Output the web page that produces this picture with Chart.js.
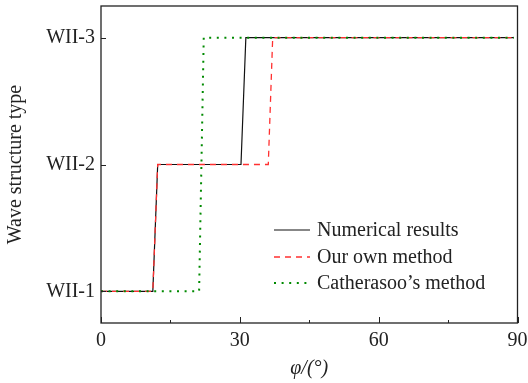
<!DOCTYPE html>
<html>
<head>
<meta charset="utf-8">
<script src="https://cdn.jsdelivr.net/npm/chart.js@4.4.1/dist/chart.umd.min.js"></script>
<style>
html,body{margin:0;padding:0;background:#fff;}
#wrap{width:528px;height:383px;position:relative;}
</style>
</head>
<body>
<div id="wrap"><canvas id="c" width="528" height="383"></canvas></div>
<script>
// ---- data ----
const seriesNames = ["Numerical results", "Our own method", "Catherasoo\u2019s method"];
const numericalX = [0, 11.2, 12.25, 30.25, 31.3, 89.2];
const numericalY = [1, 1, 2, 2, 3, 3];
const ownX = [0, 11.2, 12.25, 36.15, 37.1, 89.2];
const ownY = [1, 1, 2, 2, 3, 3];
const cathX = [0, 21.2, 22.2, 89.2];
const cathY = [1, 1, 3, 3];
const xTicks = [0, 30, 60, 90];
const xMinorTicks = [15, 45, 75];
const yTicks = [1, 2, 3];
const yTickLabels = ["WII-1", "WII-2", "WII-3"];
const xTitle = "\u03C6/(\u00B0)";
const yTitle = "Wave structure type";

const pts = (xs, ys) => xs.map((x, i) => ({x: x, y: ys[i]}));
const FONT = "'Liberation Serif', 'Times New Roman', serif";

const framePlugin = {
  id: 'frame',
  afterDatasetsDraw(chart) {
    const ctx = chart.ctx, a = chart.chartArea;
    const xs = chart.scales.x, ys = chart.scales.y;
    ctx.save();
    ctx.strokeStyle = '#222';
    ctx.lineWidth = 1.3;
    ctx.strokeRect(a.left, a.top, a.right - a.left, a.bottom - a.top);
    ctx.lineWidth = 1;
    ctx.beginPath();
    xTicks.forEach(v => { const p = Math.round(xs.getPixelForValue(v)) + 0.5; ctx.moveTo(p, a.bottom); ctx.lineTo(p, a.bottom - 6); });
    xMinorTicks.forEach(v => { const p = Math.round(xs.getPixelForValue(v)) + 0.5; ctx.moveTo(p, a.bottom); ctx.lineTo(p, a.bottom - 3); });
    yTicks.forEach(v => { const p = Math.round(ys.getPixelForValue(v)) + 0.5; ctx.moveTo(a.left, p); ctx.lineTo(a.left + 5, p); });
    ctx.stroke();
    // legend
    const rowsY = [230, 257, 283];
    chart.data.datasets.forEach((ds, i) => {
      const y = rowsY[i];
      ctx.save();
      ctx.strokeStyle = ds.borderColor;
      ctx.lineWidth = ds.borderWidth;
      ctx.setLineDash(ds.borderDash || []);
      ctx.beginPath();
      ctx.moveTo(274, y); ctx.lineTo(310, y);
      ctx.stroke();
      ctx.restore();
      ctx.fillStyle = '#222';
      ctx.font = "20px " + FONT;
      ctx.textBaseline = 'middle';
      ctx.textAlign = 'left';
      ctx.fillText(ds.label, 317, y + 1);
    });
    ctx.restore();
  }
};

new Chart(document.getElementById('c'), {
  type: 'scatter',
  data: {
    datasets: [
      {label: seriesNames[0], data: pts(numericalX, numericalY), showLine: true, borderColor: '#111', borderWidth: 1.2, pointRadius: 0, tension: 0, order: 3},
      {label: seriesNames[1], data: pts(ownX, ownY), showLine: true, borderColor: '#ff3030', borderWidth: 1.3, borderDash: [6, 5], pointRadius: 0, tension: 0, order: 2},
      {label: seriesNames[2], data: pts(cathX, cathY), showLine: true, borderColor: '#008a00', borderWidth: 2, borderDash: [2, 5.6], pointRadius: 0, tension: 0, order: 1}
    ]
  },
  options: {
    responsive: false,
    animation: false,
    events: [],
    layout: {padding: {top: 6, right: 10.5, left: 0, bottom: 0}},
    plugins: {legend: {display: false}, tooltip: {enabled: false}},
    scales: {
      x: {
        type: 'linear', min: 0, max: 90,
        afterBuildTicks: s => { s.ticks = xTicks.map(v => ({value: v})); },
        afterFit: s => { s.height = 60; s.paddingLeft = 0; s.paddingRight = 0; },
        grid: {display: false, drawTicks: false},
        border: {display: false},
        ticks: {color: '#222', font: {family: FONT, size: 20}, padding: 6, maxRotation: 0},
        title: {display: true, text: xTitle, color: '#222', font: {family: FONT, size: 20, style: 'italic'}, padding: {top: 0, bottom: 2}}
      },
      y: {
        type: 'linear', min: 0.75, max: 3.25,
        afterBuildTicks: s => { s.ticks = yTicks.map(v => ({value: v})); },
        afterFit: s => { s.width = 101; s.paddingTop = 0; s.paddingBottom = 0; },
        grid: {display: false, drawTicks: false},
        border: {display: false},
        ticks: {color: '#222', font: {family: FONT, size: 20}, padding: 6,
          callback: v => yTickLabels[yTicks.indexOf(v)] ?? ''},
        title: {display: true, text: yTitle, color: '#222', font: {family: FONT, size: 20}, padding: {top: 4, bottom: 0}}
      }
    }
  },
  plugins: [framePlugin]
});
</script>
</body>
</html>
